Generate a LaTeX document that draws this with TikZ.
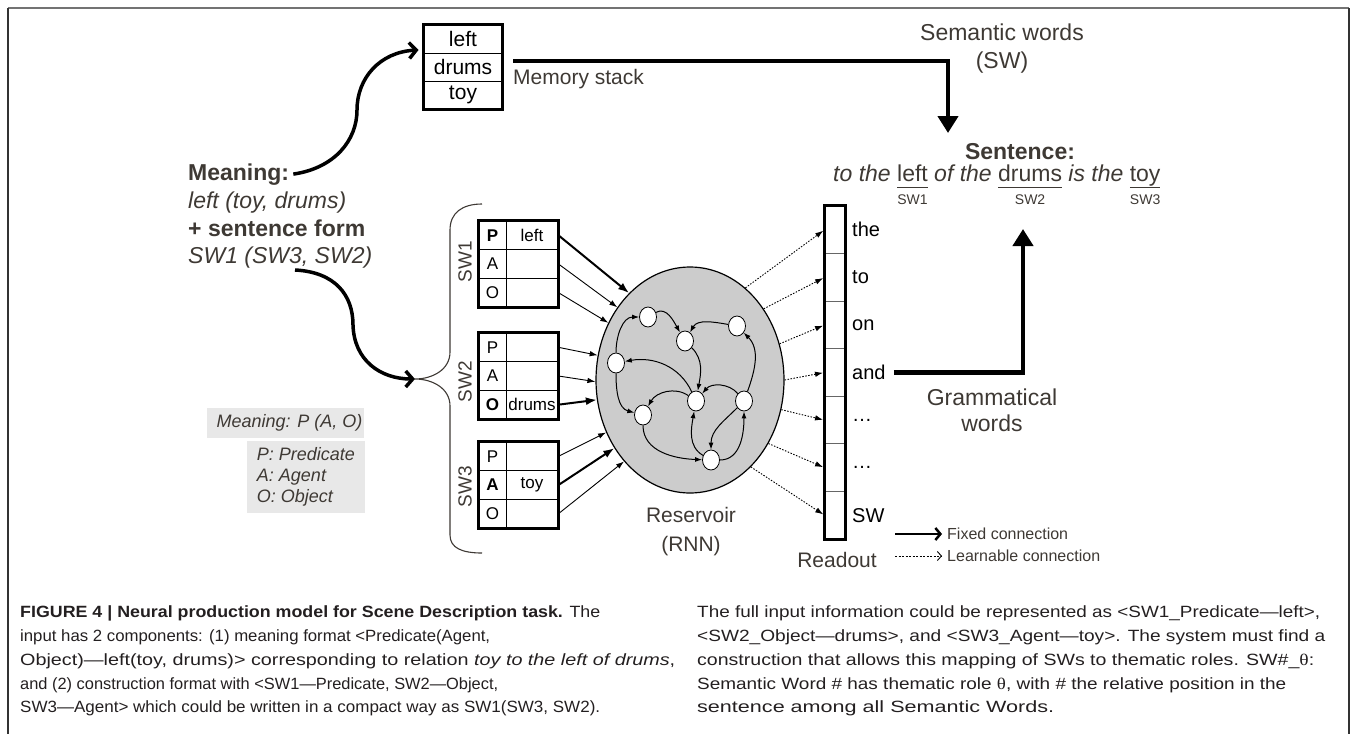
\documentclass[tikz,border=0pt]{standalone}
\usepackage{fontspec}
\usepackage{graphicx}
\setmainfont{Liberation Sans}
\newfontfamily\serifg{Liberation Serif}
\usetikzlibrary{arrows.meta,shapes.geometric,calc}
\definecolor{txt}{RGB}{62,57,52}
\definecolor{capc}{RGB}{35,31,32}
\definecolor{resfill}{RGB}{204,204,204}
\definecolor{boxgray}{RGB}{232,232,232}
\newcommand\fsz[2]{\fontsize{#1}{#2}\selectfont}
\newcommand\swword[2]{\leavevmode\setbox0\hbox{#1}\rlap{\raisebox{-7pt}{\rule{\wd0}{1.2pt}}}\rlap{\hbox to \wd0{\hss\raisebox{-23pt}{\fsz{14}{14}#2}\hss}}\box0\relax}
\tikzset{
  cellL/.style={draw, line width=1pt, minimum width=27pt, minimum height=28.67pt, inner sep=0pt, font=\fsz{17}{17}},
  cellR/.style={draw, line width=1pt, minimum width=52pt, minimum height=28.67pt, inner sep=0pt, font=\fsz{17}{17}},
  memcell/.style={draw, line width=1pt, minimum width=78pt, minimum height=28pt, inner sep=0pt, font=\fsz{21}{21}},
  rocell/.style={draw=black!60, line width=1pt, minimum width=20pt, minimum height=47.57pt, inner sep=0pt},
  rolab/.style={anchor=west, inner sep=3pt, font=\fsz{20}{20}},
  outer/.style={line width=2.5pt},
  bigarrow/.style={line width=4.5pt, line join=miter, -{Triangle[length=17pt,width=20pt]}},
  curvearrow/.style={line width=3.5pt, -{Straight Barb[length=7pt,width=16pt]}},
  thickin/.style={line width=2pt, -{Latex[length=11pt,width=8pt]}},
  thinin/.style={line width=0.9pt, -{Latex[length=8pt,width=5.5pt]}},
  learn/.style={line width=0.9pt, dash pattern=on 1.5pt off 1.5pt, shorten >=1.5pt, -{Latex[length=8pt,width=5.5pt]}},
  rnode/.style={ellipse, draw, fill=white, line width=0.8pt, minimum width=17pt, minimum height=20pt, inner sep=0pt},
  redge/.style={line width=1pt, -{Latex[length=7pt,width=5pt]}},
  lbl/.style={text=txt, inner sep=0pt},
  graybox/.style={fill=boxgray, inner sep=0pt, text=txt},
  capline/.style={anchor=base west, inner sep=0pt, text=capc}
}
\begin{document}
\begin{tikzpicture}[x=1pt,y=1pt]
\useasboundingbox (0,0) rectangle (1357,-734);
% frame
\draw[line width=1.5pt, black!55] (8,-8) -- (1349,-8);
\draw[line width=1.5pt, black!80] (8,-8) -- (8,-734);
\draw[line width=1.5pt, black!80] (1349,-8) -- (1349,-734);

% memory stack
\node[memcell] (m1) at (463,-39) {left};
\node[memcell] (m2) at (463,-67) {drums};
\node[memcell] (m3) at (463,-95) {toy};
\draw[outer] (m1.north west) rectangle (m3.south east);
\node[lbl, anchor=west, font=\fsz{21}{21}] (memlab) at (513,-79) {Memory stack};
\coordinate (memout) at (513,-61);
\coordinate (semtip) at (948,-133);
\draw[bigarrow] (memout) -| (semtip);
\node[lbl, align=center, font=\fsz{23}{28}] (semw) at (1002,-49) {Semantic words\\(SW)};

% sentence
\node[lbl, font=\fsz{23}{23}\bfseries] (senth) at (1020,-152) {Sentence:};
\node[lbl, anchor=base west, font=\fsz{23}{28}] (sent) at (833,-181) {\textit{to the} \swword{left}{SW1} \textit{of the} \swword{drums}{SW2} \textit{is the} \swword{toy}{SW3}};

% meaning block
\node[lbl, anchor=base west, font=\fsz{23}{23}\bfseries] (mng) at (188,-180) {Meaning:};
\node[lbl, anchor=base west, font=\fsz{23}{23}\itshape] (mng2) at (188,-208) {left (toy, drums)};
\node[lbl, anchor=base west, font=\fsz{23}{23}\bfseries] (mng3) at (188,-236) {+ sentence form};
\node[lbl, anchor=base west, font=\fsz{23}{23}\itshape] (mng4) at (188,-263) {SW1 (SW3, SW2)};
\draw[curvearrow] ([xshift=4pt]mng.east) .. controls (335,-168) and (357,-140) .. (357,-110) .. controls (357,-78) and (380,-52) .. ([shift={(-5pt,-11pt)}]m1.west);
\coordinate (formout) at (295,-270);
\coordinate (bracetip) at (415,-379);
\draw[curvearrow] (formout) .. controls (335,-272) and (353,-295) .. (353,-325) .. controls (354,-360) and (380,-379) .. (bracetip);

% brace
\draw[line width=1.1pt, txt] (482,-204) .. controls (462,-204) and (450,-213) .. (450,-230) -- (450,-352) .. controls (450,-370) and (432,-379) .. (bracetip) .. controls (432,-379) and (450,-388) .. (450,-406) -- (450,-535) .. controls (450,-548) and (462,-553) .. (482,-553);

% SW labels
\node[lbl, rotate=90, font=\fsz{19}{19}] (swl1) at (465,-262) {SW1};
\node[lbl, rotate=90, font=\fsz{19}{19}] (swl2) at (465,-382) {SW2};
\node[lbl, rotate=90, font=\fsz{19}{19}] (swl3) at (465,-487) {SW3};

% SW tables
\node[cellL] (s1pL) at (492.5,-235.33) {\textbf{P}};
\node[cellR] (s1p) at (532,-235.33) {left};
\node[cellL] (s1aL) at (492.5,-264) {A};
\node[cellR] (s1a) at (532,-264) {};
\node[cellL] (s1oL) at (492.5,-292.67) {O};
\node[cellR] (s1o) at (532,-292.67) {};
\draw[outer] (s1pL.north west) rectangle (s1o.south east);

\node[cellL] (s2pL) at (492.5,-347.33) {P};
\node[cellR] (s2p) at (532,-347.33) {};
\node[cellL] (s2aL) at (492.5,-376) {A};
\node[cellR] (s2a) at (532,-376) {};
\node[cellL] (s2oL) at (492.5,-404.67) {\textbf{O}};
\node[cellR] (s2o) at (532,-404.67) {drums};
\draw[outer] (s2pL.north west) rectangle (s2o.south east);

\node[cellL] (s3pL) at (492.5,-456.33) {P};
\node[cellR] (s3p) at (532,-456.33) {};
\node[cellL] (s3aL) at (492.5,-485) {\textbf{A}};
\node[cellR] (s3a) at (532,-485) {toy};
\node[cellL] (s3oL) at (492.5,-513.67) {O};
\node[cellR] (s3o) at (532,-513.67) {};
\draw[outer] (s3pL.north west) rectangle (s3o.south east);

% reservoir
\node[ellipse, draw, fill=resfill, line width=1.2pt, minimum width=188pt, minimum height=226pt, inner sep=0pt] (res) at (690,-380) {};
\node[rnode] (n1) at (648,-317) {};
\node[rnode] (n2) at (685,-341) {};
\node[rnode] (n3) at (737,-326) {};
\node[rnode] (n4) at (616,-363) {};
\node[rnode] (n5) at (643,-415) {};
\node[rnode] (n6) at (696,-401) {};
\node[rnode] (n7) at (744,-401) {};
\node[rnode] (n8) at (711,-460) {};
\draw[redge] (n1) to[out=30,in=120] (n2);
\draw[redge] (n3) to[out=170,in=60] (n2);
\draw[redge] (n4) to[out=90,in=180] (n1);
\draw[redge] (n6) to[out=115,in=10] (n4);
\draw[redge] (n4) to[out=-90,in=165] (n5);
\draw[redge] (n6) to[out=145,in=60] (n5);
\draw[redge] (n2) to[out=-45,in=80] (n6);
\draw[redge] (n7) to[out=130,in=50] (n6);
\draw[redge] (n7) to[out=70,in=-45] (n3);
\draw[redge] (n5) to[out=-90,in=178] (n8);
\draw[redge] (n8) to[out=150,in=-100] (n6);
\draw[redge] (n7) to[out=-135,in=90] (n8);
\draw[redge] (n8) to[out=0,in=-90] (n7);
\node[lbl, align=center, font=\fsz{21}{29}] (reslab) at (691,-532) {Reservoir\\(RNN)};

% input arrows
\draw[thickin] (s1p.east) -- (res.125);
\draw[thinin] (s1a.east) -- (res.135);
\draw[thinin] (s1o.east) -- (res.145);
\draw[thinin] (s2p.east) -- (res.165);
\draw[thinin] (s2a.east) -- (res.181);
\draw[thickin] (s2o.east) -- (res.192);
\draw[thinin] (s3p.east) -- (res.212);
\draw[thickin] (s3a.east) -- (res.222);
\draw[thinin] (s3o.east) -- (res.231);

% readout
\node[rocell] (r1) at (835,-229.8) {};
\node[rocell] (r2) at (835,-277.4) {};
\node[rocell] (r3) at (835,-325.0) {};
\node[rocell] (r4) at (835,-372.5) {};
\node[rocell] (r5) at (835,-420.1) {};
\node[rocell] (r6) at (835,-467.7) {};
\node[rocell] (r7) at (835,-515.2) {};
\draw[outer] (r1.north west) rectangle (r7.south east);
\node[rolab] (l1) at (849,-229.8) {the};
\node[rolab] (l2) at (849,-277.4) {to};
\node[rolab] (l3) at (849,-325.0) {on};
\node[rolab] (l4) at (849,-372.5) {and};
\node[rolab] (l5) at (849,-420.1) {…};
\node[rolab] (l6) at (849,-467.7) {…};
\node[rolab] (l7) at (849,-515.2) {SW};
\node[lbl, font=\fsz{21}{21}] (rolabel) at (837,-560) {Readout};
\draw[learn] (res.59) -- (r1.west);
\draw[learn] (res.44) -- (r2.west);
\draw[learn] (res.22) -- (r3.west);
\draw[learn] (res.0) -- (r4.west);
\draw[learn] (res.-18) -- (r5.west);
\draw[learn] (res.-39) -- (r6.west);
\draw[learn] (res.-55) -- (r7.west);

% grammatical words
\coordinate (gramtip) at (1023,-229);
\draw[bigarrow] ([xshift=5pt]l4.east) -| (gramtip);
\node[lbl, align=center, font=\fsz{23}{26}] (gram) at (992,-410) {Grammatical\\words};

% legend
\coordinate (fxa) at (895,-534);
\coordinate (fxb) at (942,-534);
\draw[line width=2.5pt, -{Straight Barb[length=5pt,width=12pt]}] (fxa) -- (fxb);
\node[lbl, anchor=west, font=\fsz{16}{16}] (fxt) at (947,-534) {Fixed connection};
\coordinate (lna) at (895,-556);
\coordinate (lnb) at (942,-556);
\draw[line width=0.9pt, dash pattern=on 2pt off 1.5pt, -{Straight Barb[length=4pt,width=9pt]}] (lna) -- (lnb);
\node[lbl, anchor=west, font=\fsz{16}{16}] (lnt) at (947,-556) {Learnable connection};

% gray key boxes
\node[graybox, minimum width=157pt, minimum height=30pt, font=\fsz{18}{18}\itshape] (leg1) at (285.5,-423) {\hspace*{8pt}Meaning: P (A, O)};
\node[graybox, minimum width=118pt, minimum height=72pt, align=left, font=\fsz{18}{21}\itshape] (leg2) at (306,-477) {P: Predicate\\A: Agent\\O: Object};

% caption
\node[capline] (c1) at (20,-617) {\resizebox{580pt}{\height}{\fsz{16.3}{20}\textbf{FIGURE 4 | Neural production model for Scene Description task.} The}};
\node[capline] (c2) at (20,-641) {\resizebox{470pt}{\height}{\fsz{16.3}{20}input has 2 components: (1) meaning format <Predicate(Agent,}};
\node[capline] (c3) at (20,-665) {\resizebox{655pt}{\height}{\fsz{16.3}{20}Object)—left(toy, drums)> corresponding to relation \textit{toy to the left of drums},}};
\node[capline] (c4) at (20,-689) {\resizebox{478pt}{\height}{\fsz{16.3}{20}and (2) construction format with <SW1—Predicate, SW2—Object,}};
\node[capline] (c5) at (20,-712) {\resizebox{580pt}{\height}{\fsz{16.3}{20}SW3—Agent> which could be written in a compact way as SW1(SW3, SW2).}};
\node[capline] (d1) at (697,-617) {\resizebox{623pt}{\height}{\fsz{16.3}{20}The full input information could be represented as <SW1\_Predicate—left>,}};
\node[capline] (d2) at (697,-641) {\resizebox{628pt}{\height}{\fsz{16.3}{20}<SW2\_Object—drums>, and <SW3\_Agent—toy>. The system must find a}};
\node[capline] (d3) at (697,-665) {\resizebox{617pt}{\height}{\fsz{16.3}{20}construction that allows this mapping of SWs to thematic roles. SW\#\_{\serifg θ}:}};
\node[capline] (d4) at (697,-689) {\resizebox{589pt}{\height}{\fsz{16.3}{20}Semantic Word \# has thematic role {\serifg θ}, with \# the relative position in the}};
\node[capline] (d5) at (697,-712) {\resizebox{357pt}{\height}{\fsz{16.3}{20}sentence among all Semantic Words.}};
\end{tikzpicture}
\end{document}
